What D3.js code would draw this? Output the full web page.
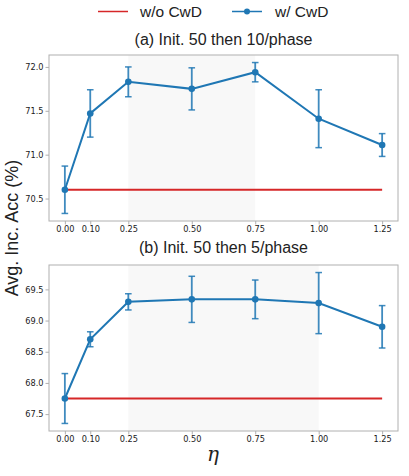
<!DOCTYPE html>
<html><head><meta charset="utf-8">
<script src="https://cdn.jsdelivr.net/npm/d3@7"></script>
<style>body{margin:0;background:#fff}</style>
</head><body>
<svg id="c" width="409" height="476"></svg>
<script>
const etas = [0, 0.10, 0.25, 0.50, 0.75, 1.00, 1.25];
const tickLabels = ["0.00","0.10","0.25","0.50","0.75","1.00","1.25"];
const accA = [70.60, 71.47, 71.83, 71.75, 71.94, 71.41, 71.11];
const errA = [0.27, 0.27, 0.17, 0.24, 0.11, 0.33, 0.13];
const baseA = 70.60;
const shadeA = [0.25, 0.75];
const yTicksA = [70.5, 71.0, 71.5, 72.0];
const accB = [67.75, 68.70, 69.30, 69.34, 69.34, 69.28, 68.90];
const errB = [0.40, 0.12, 0.13, 0.37, 0.31, 0.49, 0.34];
const baseB = 67.75;
const shadeB = [0.25, 1.00];
const yTicksB = [67.5, 68.0, 68.5, 69.0, 69.5];
const titles = ["(a) Init. 50 then 10/phase", "(b) Init. 50 then 5/phase"];
const legendLabels = ["w/o CwD", "w/ CwD"];

const svg = d3.select("#c");
const BLUE = "#1f77b4", RED = "#d62728";
const left = 49, right = 398;
const x = d3.scaleLinear().domain([-0.0625, 1.3125]).range([left, right]);

function panel(top, bottom, acc, err, base, shade, yTicks, title, titleOff) {
  const lo = d3.min(acc.map((v,i)=>v-err[i])), hi = d3.max(acc.map((v,i)=>v+err[i]));
  const m = (hi-lo)*0.05;
  const y = d3.scaleLinear().domain([lo-m, hi+m]).range([bottom, top]);
  const g = svg.append("g");
  g.append("rect").attr("x", x(shade[0])).attr("y", top)
    .attr("width", x(shade[1])-x(shade[0])).attr("height", bottom-top)
    .attr("fill", "#f8f8f8");
  g.append("line").attr("x1", x(etas[0])).attr("x2", x(etas[etas.length-1]))
    .attr("y1", y(base)).attr("y2", y(base)).attr("stroke", RED).attr("stroke-width", 2);
  etas.forEach((e,i)=>{
    const cx = x(e);
    g.append("line").attr("x1",cx).attr("x2",cx).attr("y1",y(acc[i]-err[i])).attr("y2",y(acc[i]+err[i]))
      .attr("stroke",BLUE).attr("stroke-width",1.8).attr("opacity",0.85);
    [acc[i]-err[i], acc[i]+err[i]].forEach(v=>{
      g.append("line").attr("x1",cx-3.3).attr("x2",cx+3.3).attr("y1",y(v)).attr("y2",y(v))
        .attr("stroke",BLUE).attr("stroke-width",1.5).attr("opacity",0.85);
    });
  });
  g.append("path").datum(etas.map((e,i)=>[e,acc[i]]))
    .attr("d", d3.line().x(d=>x(d[0])).y(d=>y(d[1])))
    .attr("fill","none").attr("stroke",BLUE).attr("stroke-width",2);
  g.selectAll("circle.p").data(etas).enter().append("circle")
    .attr("cx", d=>x(d)).attr("cy", (d,i)=>y(acc[i])).attr("r", 3.3).attr("fill", BLUE);
  g.append("rect").attr("x", left).attr("y", top).attr("width", right-left).attr("height", bottom-top)
    .attr("fill","none").attr("stroke","#b0b0b0").attr("stroke-width",1);
  const xa = g.append("g").attr("transform",`translate(0,${bottom})`)
    .call(d3.axisBottom(x).tickValues(etas).tickFormat((d,i)=>tickLabels[i]).tickSize(3.5).tickPadding(2));
  const ya = g.append("g").attr("transform",`translate(${left},0)`)
    .call(d3.axisLeft(y).tickValues(yTicks).tickFormat(d3.format(".1f")).tickSize(3.5).tickPadding(2));
  [xa, ya].forEach(a=>{
    a.select(".domain").remove();
    a.selectAll(".tick line").attr("stroke","#b0b0b0");
    a.selectAll("text").attr("font-family","DejaVu Sans").attr("font-size","8.2px").attr("fill","#1a1a1a");
  });
  g.append("text").attr("x",(left+right)/2).attr("y", top-titleOff).attr("text-anchor","middle")
    .attr("font-family","Liberation Sans, Arial").attr("font-size","16px").attr("fill","#222").text(title);
}

panel(55, 221, accA, errA, baseA, shadeA, yTicksA, titles[0], 10);
panel(265, 431, accB, errB, baseB, shadeB, yTicksB, titles[1], 12);

const lg = svg.append("g");
lg.append("line").attr("x1",98).attr("x2",128).attr("y1",11.5).attr("y2",11.5).attr("stroke",RED).attr("stroke-width",1.5);
lg.append("text").attr("x",140).attr("y",17).attr("font-family","Liberation Sans, Arial").attr("font-size","15.5px").attr("fill","#222").text(legendLabels[0]);
lg.append("line").attr("x1",232).attr("x2",262).attr("y1",11.5).attr("y2",11.5).attr("stroke",BLUE).attr("stroke-width",1.5);
lg.append("circle").attr("cx",247).attr("cy",11.5).attr("r",3).attr("fill",BLUE);
lg.append("text").attr("x",275).attr("y",17).attr("font-family","Liberation Sans, Arial").attr("font-size","15.5px").attr("fill","#222").text(legendLabels[1]);

svg.append("text").attr("transform","translate(18,228) rotate(-90)").attr("text-anchor","middle")
  .attr("font-family","Liberation Sans, Arial").attr("font-size","18px").attr("fill","#222").text("Avg. Inc. Acc (%)");
svg.append("text").attr("x",213).attr("y",461).attr("text-anchor","middle")
  .attr("font-family","DejaVu Serif").attr("font-style","italic").attr("font-size","20px").attr("fill","#222").text("η");
</script>
</body></html>
